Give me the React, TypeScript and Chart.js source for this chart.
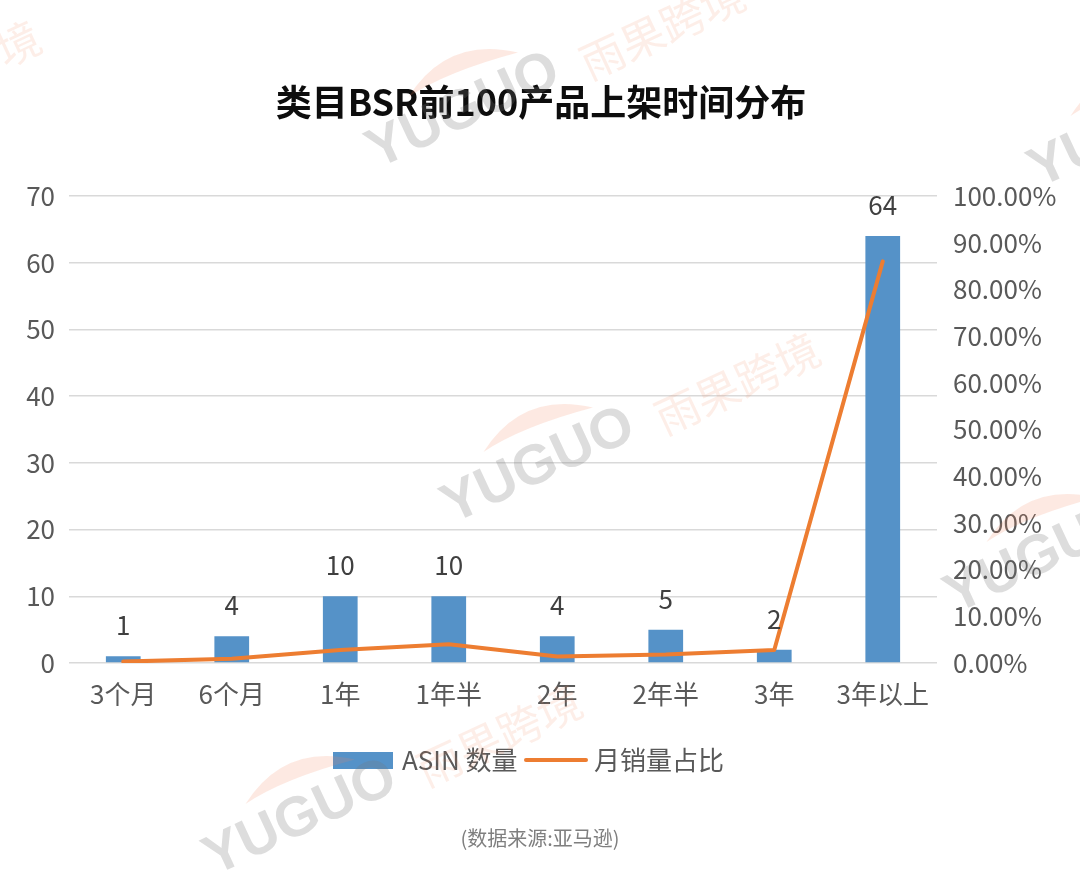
import React, { useEffect, useRef } from "react";
import { Chart, registerables } from "chart.js";

Chart.register(...registerables);

// ---- data ----
const categories = ["3个月", "6个月", "1年", "1年半", "2年", "2年半", "3年", "3年以上"];
const asinCounts = [1, 4, 10, 10, 4, 5, 2, 64];
const salesSharePct = [0.3, 0.9, 2.8, 4.0, 1.4, 1.8, 2.8, 86.0];
const leftAxisTicks = { min: 0, max: 70, step: 10 };
const rightAxisTicks = { min: 0, max: 100, step: 10 };

const TITLE = "类目BSR前100产品上架时间分布";
const SOURCE = "(数据来源:亚马逊)";
const LEGEND_BAR = "ASIN 数量";
const LEGEND_LINE = "月销量占比";
const WM_EN = "YUGUO";
const WM_CN = "雨果跨境";

const FONT = '"Noto Sans CJK SC", "Noto Sans", sans-serif';
const BAR_COLOR = "#5592C8";
const LINE_COLOR = "#ED7D31";
const TICK_COLOR = "#595959";

const W = 1080;
const H = 872;

const watermarkOrigins: [number, number][] = [
  [-327, 212],
  [377, 169],
  [452, 524],
  [214, 876],
  [955, 614],
  [1039, 188],
];

function drawWatermark(ctx: CanvasRenderingContext2D, ox: number, oy: number) {
  ctx.save();
  ctx.translate(ox, oy);
  ctx.rotate((-25 * Math.PI) / 180);
  // swoosh
  ctx.beginPath();
  ctx.moveTo(59, -52);
  ctx.quadraticCurveTo(120, -91, 177, -46);
  ctx.quadraticCurveTo(104, -59, 59, -52);
  ctx.closePath();
  ctx.fillStyle = "rgba(242,135,95,0.18)";
  ctx.fill();
  ctx.font = `bold 56px "Liberation Sans", Arial, sans-serif`;
  ctx.textAlign = "left";
  ctx.textBaseline = "alphabetic";
  ctx.fillStyle = "rgba(120,120,120,0.25)";
  ctx.fillText(WM_EN, 0, 0);
  ctx.font = `44px ${FONT}`;
  ctx.fillStyle = "rgba(240,120,80,0.13)";
  ctx.fillText(WM_CN, 230, 10);
  ctx.restore();
}

const decorPlugin = {
  id: "decor",
  afterDatasetsDraw(chart: any) {
    const ctx: CanvasRenderingContext2D = chart.ctx;
    const meta = chart.getDatasetMeta(1);
    ctx.save();
    ctx.font = `26px ${FONT}`;
    ctx.fillStyle = "#404040";
    ctx.textAlign = "center";
    ctx.textBaseline = "middle";
    meta.data.forEach((bar: any, i: number) => {
      ctx.fillText(String(asinCounts[i]), bar.x, bar.y - 31);
    });
    ctx.restore();
  },
  afterDraw(chart: any) {
    const ctx: CanvasRenderingContext2D = chart.ctx;
    ctx.save();
    // title
    ctx.font = `bold 36px ${FONT}`;
    ctx.fillStyle = "#0d0d0d";
    ctx.textAlign = "center";
    ctx.textBaseline = "middle";
    ctx.fillText(TITLE, 541, 102);

    // legend
    const ly = 760;
    ctx.fillStyle = BAR_COLOR;
    ctx.fillRect(333, 752, 60, 17);
    ctx.font = `26px ${FONT}`;
    ctx.fillStyle = TICK_COLOR;
    ctx.textAlign = "left";
    ctx.fillText(LEGEND_BAR, 402, ly);
    ctx.beginPath();
    ctx.moveTo(526, ly);
    ctx.lineTo(586, ly);
    ctx.strokeStyle = LINE_COLOR;
    ctx.lineWidth = 4;
    ctx.lineCap = "round";
    ctx.stroke();
    ctx.fillStyle = TICK_COLOR;
    ctx.fillText(LEGEND_LINE, 594, ly);

    // source
    ctx.font = `20px ${FONT}`;
    ctx.fillStyle = "#7f7f7f";
    ctx.textAlign = "center";
    ctx.fillText(SOURCE, 540, 838);
    ctx.restore();

    watermarkOrigins.forEach(([x, y]) => drawWatermark(ctx, x, y));
  },
};

export default function App() {
  const ref = useRef<HTMLCanvasElement | null>(null);

  useEffect(() => {
    if (!ref.current) return;
    const chart = new Chart(ref.current, {
      type: "bar",
      data: {
        labels: categories,
        datasets: [
          {
            type: "line",
            label: LEGEND_LINE,
            data: salesSharePct,
            yAxisID: "y1",
            borderColor: LINE_COLOR,
            backgroundColor: LINE_COLOR,
            borderWidth: 4,
            pointRadius: 0,
            tension: 0,
            borderJoinStyle: "round",
            borderCapStyle: "round",
            order: 0,
          } as any,
          {
            type: "bar",
            label: LEGEND_BAR,
            data: asinCounts,
            yAxisID: "y",
            backgroundColor: BAR_COLOR,
            barPercentage: 0.32,
            categoryPercentage: 1,
            order: 1,
          } as any,
        ],
      },
      options: {
        responsive: false,
        animation: false,
        devicePixelRatio: 1,
        layout: { padding: { top: 196, left: 0, right: 0, bottom: 0 } },
        plugins: {
          legend: { display: false },
          title: { display: false },
          tooltip: { enabled: false },
        },
        scales: {
          x: {
            grid: { display: false, drawTicks: false },
            border: { display: false },
            ticks: {
              color: TICK_COLOR,
              font: { family: FONT, size: 26 },
              padding: 16,
              maxRotation: 0,
              autoSkip: false,
            },
            afterFit: (s: any) => {
              s.height = H - 663;
            },
          },
          y: {
            position: "left",
            min: leftAxisTicks.min,
            max: leftAxisTicks.max,
            grid: { color: "#d9d9d9", lineWidth: 1.5, drawTicks: false },
            border: { display: false },
            ticks: {
              stepSize: leftAxisTicks.step,
              color: TICK_COLOR,
              font: { family: FONT, size: 26 },
              padding: 14,
            },
            afterFit: (s: any) => {
              s.width = 69;
            },
          },
          y1: {
            position: "right",
            min: rightAxisTicks.min,
            max: rightAxisTicks.max,
            grid: { drawOnChartArea: false, drawTicks: false, display: false },
            border: { display: false },
            ticks: {
              stepSize: rightAxisTicks.step,
              color: TICK_COLOR,
              font: { family: FONT, size: 26 },
              padding: 16,
              callback: (v: any) => Number(v).toFixed(2) + "%",
            },
            afterFit: (s: any) => {
              s.width = W - 937;
            },
          },
        },
      } as any,
      plugins: [decorPlugin],
    });
    return () => chart.destroy();
  }, []);

  return (
    <div style={{ position: "absolute", left: 0, top: 0, width: W, height: H, background: "#fff" }}>
      <canvas ref={ref} width={W} height={H} style={{ width: W, height: H, display: "block" }} />
    </div>
  );
}
